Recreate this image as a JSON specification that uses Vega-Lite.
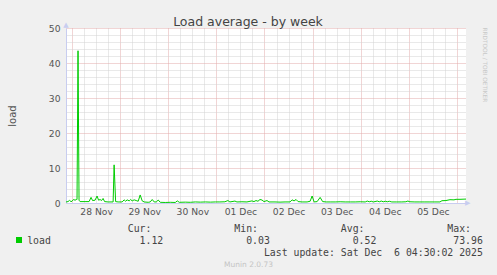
{
  "$schema": "https://vega.github.io/schema/vega-lite/v6.json",
  "width": 400,
  "height": 175,
  "autosize": {"type": "none"},
  "padding": {"left": 66, "top": 28, "right": 31, "bottom": 72},
  "background": "#f0f0f0",
  "view": {"fill": "#ffffff", "stroke": null},
  "config": {"font": "DejaVu Sans"},
  "title": {"text": "Load average - by week", "fontSize": 12.5, "fontWeight": "normal", "color": "#444444", "anchor": "middle", "frame": "group", "dx": -18, "dy": 21, "offset": 4, "baseline": "alphabetic"},
  "datasets": {
    "load": [
      {"t":"2025-11-27T21:00:00Z","v":0.3},{"t":"2025-11-27T22:00:00Z","v":0.4},{"t":"2025-11-27T22:45:00Z","v":0.75},{"t":"2025-11-27T23:30:00Z","v":0.4},
      {"t":"2025-11-28T00:00:00Z","v":0.5},{"t":"2025-11-28T00:45:00Z","v":1.0},{"t":"2025-11-28T01:30:00Z","v":0.8},{"t":"2025-11-28T02:15:00Z","v":1.0},{"t":"2025-11-28T02:30:00Z","v":1.0},{"t":"2025-11-28T03:00:00Z","v":43.5},{"t":"2025-11-28T03:30:00Z","v":0.8},{"t":"2025-11-28T04:00:00Z","v":0.4},{"t":"2025-11-28T06:30:00Z","v":0.4},{"t":"2025-11-28T08:30:00Z","v":0.4},{"t":"2025-11-28T09:30:00Z","v":1.6},{"t":"2025-11-28T10:15:00Z","v":0.7},{"t":"2025-11-28T11:30:00Z","v":0.8},{"t":"2025-11-28T12:30:00Z","v":2.0},{"t":"2025-11-28T13:15:00Z","v":0.8},{"t":"2025-11-28T14:00:00Z","v":1.0},{"t":"2025-11-28T14:45:00Z","v":0.7},{"t":"2025-11-28T15:30:00Z","v":1.3},{"t":"2025-11-28T16:15:00Z","v":0.4},{"t":"2025-11-28T18:00:00Z","v":0.3},{"t":"2025-11-28T20:30:00Z","v":0.3},{"t":"2025-11-28T21:00:00Z","v":10.9},{"t":"2025-11-28T21:45:00Z","v":0.4},{"t":"2025-11-28T23:00:00Z","v":0.3},
      {"t":"2025-11-29T01:00:00Z","v":0.3},{"t":"2025-11-29T02:00:00Z","v":0.9},{"t":"2025-11-29T02:45:00Z","v":0.5},{"t":"2025-11-29T03:30:00Z","v":0.9},{"t":"2025-11-29T04:30:00Z","v":0.6},{"t":"2025-11-29T05:15:00Z","v":1.0},{"t":"2025-11-29T06:00:00Z","v":0.6},{"t":"2025-11-29T07:00:00Z","v":0.9},{"t":"2025-11-29T08:00:00Z","v":0.7},{"t":"2025-11-29T09:00:00Z","v":0.5},{"t":"2025-11-29T10:00:00Z","v":2.3},{"t":"2025-11-29T11:00:00Z","v":0.6},{"t":"2025-11-29T12:00:00Z","v":0.3},{"t":"2025-11-29T14:00:00Z","v":0.2},{"t":"2025-11-29T15:00:00Z","v":0.3},{"t":"2025-11-29T16:00:00Z","v":1.0},{"t":"2025-11-29T17:00:00Z","v":0.3},{"t":"2025-11-29T18:00:00Z","v":0.3},{"t":"2025-11-29T19:00:00Z","v":0.85},{"t":"2025-11-29T20:00:00Z","v":0.2},{"t":"2025-11-29T22:30:00Z","v":0.15},
      {"t":"2025-11-30T01:00:00Z","v":0.2},{"t":"2025-11-30T03:30:00Z","v":0.15},{"t":"2025-11-30T04:30:00Z","v":0.6},{"t":"2025-11-30T05:30:00Z","v":0.2},{"t":"2025-11-30T08:30:00Z","v":0.25},{"t":"2025-11-30T11:00:00Z","v":0.2},{"t":"2025-11-30T13:30:00Z","v":0.3},{"t":"2025-11-30T16:00:00Z","v":0.25},{"t":"2025-11-30T18:30:00Z","v":0.3},{"t":"2025-11-30T21:00:00Z","v":0.25},{"t":"2025-11-30T23:30:00Z","v":0.3},
      {"t":"2025-12-01T01:45:00Z","v":0.3},{"t":"2025-12-01T04:15:00Z","v":0.35},{"t":"2025-12-01T05:45:00Z","v":0.7},{"t":"2025-12-01T06:45:00Z","v":0.3},{"t":"2025-12-01T09:15:00Z","v":0.55},{"t":"2025-12-01T10:15:00Z","v":0.3},{"t":"2025-12-01T12:45:00Z","v":0.35},{"t":"2025-12-01T15:15:00Z","v":0.3},{"t":"2025-12-01T17:45:00Z","v":0.6},{"t":"2025-12-01T18:45:00Z","v":0.4},{"t":"2025-12-01T19:45:00Z","v":0.7},{"t":"2025-12-01T20:45:00Z","v":0.5},{"t":"2025-12-01T21:45:00Z","v":1.0},{"t":"2025-12-01T22:45:00Z","v":0.85},{"t":"2025-12-01T23:45:00Z","v":0.4},
      {"t":"2025-12-02T01:15:00Z","v":0.7},{"t":"2025-12-02T02:15:00Z","v":0.3},{"t":"2025-12-02T05:15:00Z","v":0.3},{"t":"2025-12-02T07:45:00Z","v":0.25},{"t":"2025-12-02T10:15:00Z","v":0.3},{"t":"2025-12-02T12:45:00Z","v":0.3},{"t":"2025-12-02T13:45:00Z","v":0.9},{"t":"2025-12-02T14:45:00Z","v":0.6},{"t":"2025-12-02T15:45:00Z","v":1.0},{"t":"2025-12-02T16:45:00Z","v":0.4},{"t":"2025-12-02T18:45:00Z","v":0.3},{"t":"2025-12-02T21:15:00Z","v":0.3},{"t":"2025-12-02T22:45:00Z","v":0.5},{"t":"2025-12-02T23:45:00Z","v":2.0},
      {"t":"2025-12-03T00:45:00Z","v":0.3},{"t":"2025-12-03T02:15:00Z","v":0.4},{"t":"2025-12-03T03:45:00Z","v":1.6},{"t":"2025-12-03T05:00:00Z","v":0.4},{"t":"2025-12-03T06:45:00Z","v":0.3},{"t":"2025-12-03T08:45:00Z","v":0.3},{"t":"2025-12-03T11:15:00Z","v":0.3},{"t":"2025-12-03T13:45:00Z","v":0.35},{"t":"2025-12-03T16:15:00Z","v":0.3},{"t":"2025-12-03T18:45:00Z","v":0.3},{"t":"2025-12-03T21:15:00Z","v":0.3},{"t":"2025-12-03T23:45:00Z","v":0.35},
      {"t":"2025-12-04T02:15:00Z","v":0.3},{"t":"2025-12-04T03:15:00Z","v":0.55},{"t":"2025-12-04T04:15:00Z","v":0.35},{"t":"2025-12-04T05:15:00Z","v":0.5},{"t":"2025-12-04T06:15:00Z","v":0.3},{"t":"2025-12-04T08:15:00Z","v":0.55},{"t":"2025-12-04T09:15:00Z","v":0.35},{"t":"2025-12-04T10:15:00Z","v":0.55},{"t":"2025-12-04T11:15:00Z","v":0.35},{"t":"2025-12-04T12:15:00Z","v":0.5},{"t":"2025-12-04T13:15:00Z","v":0.35},{"t":"2025-12-04T14:15:00Z","v":0.5},{"t":"2025-12-04T15:30:00Z","v":0.3},{"t":"2025-12-04T18:00:00Z","v":0.3},{"t":"2025-12-04T20:30:00Z","v":0.3},{"t":"2025-12-04T22:30:00Z","v":0.35},{"t":"2025-12-04T23:30:00Z","v":0.55},
      {"t":"2025-12-05T00:30:00Z","v":0.35},{"t":"2025-12-05T03:00:00Z","v":0.3},{"t":"2025-12-05T05:30:00Z","v":0.3},{"t":"2025-12-05T08:00:00Z","v":0.3},{"t":"2025-12-05T10:30:00Z","v":0.3},{"t":"2025-12-05T13:00:00Z","v":0.3},{"t":"2025-12-05T15:30:00Z","v":0.3},{"t":"2025-12-05T16:30:00Z","v":0.65},{"t":"2025-12-05T18:30:00Z","v":0.7},{"t":"2025-12-05T20:30:00Z","v":0.95},{"t":"2025-12-05T22:30:00Z","v":0.9},{"t":"2025-12-05T23:30:00Z","v":1.05},
      {"t":"2025-12-06T01:30:00Z","v":1.05},{"t":"2025-12-06T03:30:00Z","v":1.1},{"t":"2025-12-06T04:30:00Z","v":1.12}
    ],
    "arrowUp": [{"t":"2025-11-27T21:00:00Z","v":50,"s":"▲"}],
    "arrowRight": [{"t":"2025-12-06T04:30:00Z","v":0,"s":"▶"}]
  },
  "layer": [
    {
      "data": {"name": "load"},
      "mark": {"type": "line", "strokeWidth": 1, "clip": true},
      "encoding": {
        "x": {
          "field": "t", "type": "temporal",
          "scale": {"type": "utc", "domain": [{"year": 2025, "month": "nov", "date": 27, "hours": 21, "utc": true}, {"year": 2025, "month": "dec", "date": 6, "hours": 4, "minutes": 30, "utc": true}]},
          "axis": {
            "orient": "bottom",
            "values": [1764288000000,1764309600000,1764331200000,1764352800000,1764374400000,1764396000000,1764417600000,1764439200000,1764460800000,1764482400000,1764504000000,1764525600000,1764547200000,1764568800000,1764590400000,1764612000000,1764633600000,1764655200000,1764676800000,1764698400000,1764720000000,1764741600000,1764763200000,1764784800000,1764806400000,1764828000000,1764849600000,1764871200000,1764892800000,1764914400000,1764936000000,1764957600000,1764979200000],
            "labelExpr": "utchours(datum.value) == 12 ? utcFormat(datum.value, '%d %b') : ''",
            "labelOverlap": false, "labelFlush": false, "labelBound": false,
            "grid": true,
            "gridColor": {"condition": {"test": "utchours(datum.value) == 0", "value": "#e2aaaa"}, "value": "#d2d2d2"},
            "gridDash": [1, 1],
            "ticks": false,
            "domainColor": "#c8cdf0",
            "labelColor": "#555555", "labelFontSize": 9.2, "labelPadding": 4,
            "title": [
              "\u200b\u00a0\u00a0\u00a0\u00a0\u00a0\u00a0\u00a0\u00a0\u00a0\u00a0\u00a0\u00a0\u00a0\u00a0\u00a0\u00a0\u00a0Cur:\u00a0\u00a0\u00a0\u00a0\u00a0\u00a0\u00a0\u00a0\u00a0\u00a0\u00a0\u00a0\u00a0\u00a0Min:\u00a0\u00a0\u00a0\u00a0\u00a0\u00a0\u00a0\u00a0\u00a0\u00a0\u00a0\u00a0\u00a0\u00a0Avg:\u00a0\u00a0\u00a0\u00a0\u00a0\u00a0\u00a0\u00a0\u00a0\u00a0\u00a0\u00a0\u00a0\u00a0Max:",
              "load\u00a0\u00a0\u00a0\u00a0\u00a0\u00a0\u00a0\u00a0\u00a0\u00a0\u00a0\u00a0\u00a0\u00a0\u00a01.12\u00a0\u00a0\u00a0\u00a0\u00a0\u00a0\u00a0\u00a0\u00a0\u00a0\u00a0\u00a0\u00a0\u00a00.03\u00a0\u00a0\u00a0\u00a0\u00a0\u00a0\u00a0\u00a0\u00a0\u00a0\u00a0\u00a0\u00a0\u00a00.52\u00a0\u00a0\u00a0\u00a0\u00a0\u00a0\u00a0\u00a0\u00a0\u00a0\u00a0\u00a0\u00a073.96",
              "\u200b\u00a0\u00a0\u00a0\u00a0\u00a0\u00a0\u00a0\u00a0\u00a0\u00a0\u00a0\u00a0\u00a0\u00a0\u00a0\u00a0\u00a0\u00a0\u00a0\u00a0\u00a0\u00a0\u00a0\u00a0\u00a0\u00a0\u00a0\u00a0\u00a0\u00a0\u00a0\u00a0\u00a0\u00a0\u00a0\u00a0\u00a0\u00a0\u00a0\u00a0Last\u00a0update:\u00a0Sat\u00a0Dec\u00a0\u00a06\u00a004:30:02\u00a02025"
            ],
            "titleFont": "DejaVu Sans Mono", "titleFontSize": 9.83, "titleFontWeight": "normal", "titleColor": "#444444",
            "titleAlign": "left", "titleX": -39.3, "titleY": 28.3, "titleBaseline": "alphabetic", "titleLineHeight": 12
          }
        },
        "y": {
          "field": "v", "type": "quantitative",
          "scale": {"domain": [0, 50], "nice": false},
          "axis": {
            "orient": "left",
            "values": [0,2,4,6,8,10,12,14,16,18,20,22,24,26,28,30,32,34,36,38,40,42,44,46,48,50],
            "labelExpr": "datum.value % 10 == 0 ? datum.label : ''",
            "labelOverlap": false, "labelFlush": false, "labelBound": false,
            "grid": true,
            "gridColor": {"condition": {"test": "datum.value % 10 == 0", "value": "#e2aaaa"}, "value": "#d2d2d2"},
            "gridDash": [1, 1],
            "ticks": false,
            "domainColor": "#c8cdf0",
            "labelColor": "#555555", "labelFontSize": 9.2, "labelPadding": 6,
            "title": "load", "titleFontSize": 10, "titleFontWeight": "normal", "titleColor": "#555555",
            "titleX": -54, "titleY": 87.5, "titleBaseline": "middle", "titleAlign": "center", "titleAngle": 270
          }
        },
        "color": {
          "datum": "load",
          "scale": {"range": ["#00cc00"]},
          "legend": {"orient": "none", "legendX": -52, "legendY": 207, "title": null, "symbolType": "square", "symbolSize": 36, "symbolFillColor": "#00cc00", "symbolStrokeColor": "#00cc00", "symbolStrokeWidth": 0, "labelExpr": "''", "padding": 0}
        }
      }
    },
    {
      "data": {"name": "arrowUp"},
      "mark": {"type": "text", "color": "#c8cdf0", "fontSize": 7, "baseline": "alphabetic", "align": "center", "dy": -1},
      "encoding": {
        "x": {"field": "t", "type": "temporal", "axis": {"orient": "bottom", "labels": false, "ticks": false, "domain": false, "grid": false, "title": "Munin 2.0.73", "titleFontSize": 7.5, "titleColor": "#c4c4c4", "titleFontWeight": "normal", "titleX": 182, "titleY": 63, "titleBaseline": "alphabetic", "titleAlign": "center"}},
        "y": {"field": "v", "type": "quantitative", "axis": {"orient": "right", "labels": false, "ticks": false, "domain": false, "grid": false, "title": "RRDTOOL / TOBI OETIKER", "titleAngle": 90, "titleFontSize": 5.8, "titleColor": "#c8c8c8", "titleFontWeight": "normal", "titleX": 18, "titleY": -1, "titleAlign": "left", "titleBaseline": "middle"}},
        "text": {"field": "s"}
      }
    },
    {
      "data": {"name": "arrowRight"},
      "mark": {"type": "text", "color": "#c8cdf0", "fontSize": 7, "baseline": "middle", "align": "left", "dx": -1},
      "encoding": {
        "x": {"field": "t", "type": "temporal", "axis": null},
        "y": {"field": "v", "type": "quantitative", "axis": null},
        "text": {"field": "s"}
      }
    }
  ],
  "resolve": {"axis": {"x": "independent", "y": "independent"}}
}
